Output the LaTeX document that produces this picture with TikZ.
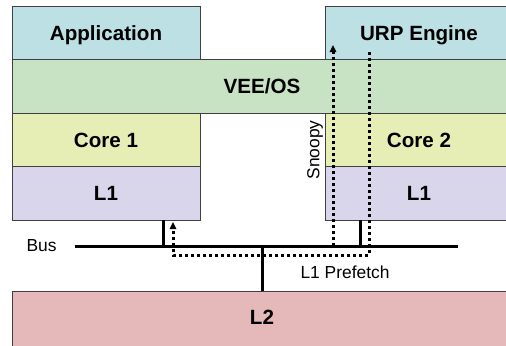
\documentclass[tikz,border=0pt]{standalone}
\usepackage{fontspec}
\setmainfont{Liberation Sans}
\usetikzlibrary{positioning, arrows.meta}

\definecolor{appblue}{HTML}{BCE0E3}
\definecolor{veegreen}{HTML}{C8E2C4}
\definecolor{coreyellow}{HTML}{E6EDB5}
\definecolor{cachelilac}{HTML}{D9D5EB}
\definecolor{lltwopink}{HTML}{E5B8B9}
\definecolor{boxline}{HTML}{404040}

\begin{document}
\begin{tikzpicture}[x=0.5pt, y=-0.5pt,
    layer/.style={draw=boxline, line width=0.5pt, inner sep=0pt, outer sep=0pt,
        minimum height=26.75pt, anchor=north west, text height=7.4pt, text depth=0pt,
        font=\bfseries\fontsize{10.3}{12}\selectfont},
    lbl/.style={inner sep=0pt, font=\fontsize{8.7}{10}\selectfont},
    bus/.style={line width=1.5pt},
    snoop/.style={line width=1.5pt, dash pattern=on 1.5pt off 1.5pt,
        -{Triangle[length=3.5pt,width=3.2pt]}}]
    \useasboundingbox (0,0) rectangle (506,345);
%
    \node[layer, fill=appblue, minimum width=94pt] (app) at (12,6) {Application};
    \node[layer, fill=appblue, minimum width=94pt] (urp) at (325,6) {URP Engine};
    \node[layer, fill=veegreen, minimum width=250pt] (vee) at (app.south west) {VEE/OS};
    \node[layer, fill=coreyellow, minimum width=94pt] (core1) at (vee.south west) {Core 1};
    \node[layer, fill=cachelilac, minimum width=94pt] (l1a) at (core1.south west) {L1};
    \node[layer, fill=coreyellow, minimum width=94pt] (core2) at (vee.south west -| urp.west) {Core 2};
    \node[layer, fill=cachelilac, minimum width=94pt] (l1b) at (core2.south west) {L1};
    \node[layer, fill=lltwopink, minimum width=250pt, minimum height=30pt,
        text depth=4pt] (l2) at (12,291) {L2};
%
    \coordinate (busW) at (75,246);
    \coordinate (busE) at (458,246);
    \node[lbl, left=9pt of busW] (buslbl) {Bus};
    \draw[bus] (busW) -- (busE);
    \draw[bus] (l1a.south west) ++(151,0) coordinate (tapA) -- (tapA |- busW);
    \draw[bus] (l1b.south west) ++(35,0) coordinate (tapB) -- (tapB |- busW);
    \draw[bus] (l2.north west) ++(250,0) coordinate (tapL) -- (tapL |- busW);
%
    \coordinate (snoopS) at (333,246);
    \draw[snoop] (snoopS) -- (snoopS |- 0,45) coordinate (snoopT);
    \node[lbl, rotate=90] (snooplbl) at (315,150) {Snoopy};
%
    \coordinate (pfS) at (369,52);
    \coordinate (pfR) at (369,255);
    \coordinate (pfL) at (173,255);
    \draw[snoop] (pfS) -- (pfR) -- (pfL) -- (pfL |- 0,222);
    \node[lbl] (pflbl) at (345,272) {L1 Prefetch};
\end{tikzpicture}
\end{document}
